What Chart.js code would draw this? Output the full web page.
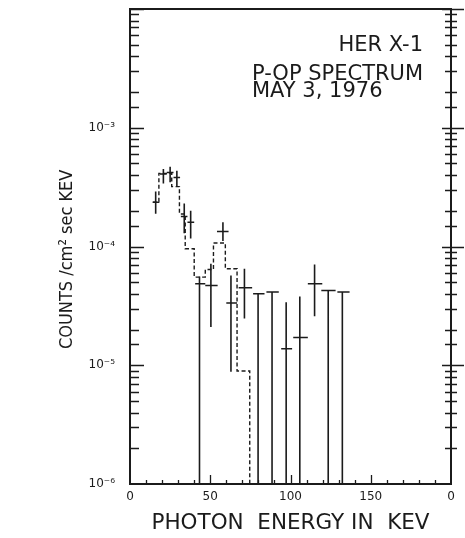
<!DOCTYPE html>
<html>
<head>
<meta charset="utf-8">
<script src="https://cdn.jsdelivr.net/npm/chart.js@4.4.0/dist/chart.umd.min.js"></script>
<style>
html, body { margin: 0; padding: 0; background: #fff; }
#wrap { width: 465px; height: 538px; position: relative; }
</style>
</head>
<body>
<div id="wrap"><canvas id="mycanvas"></canvas></div>
<script>
var energy = [16.0, 20.8, 25.0, 29.2, 33.8, 37.8, 43.3, 50.4, 57.9, 62.9, 71.3, 79.8, 88.5, 97.3, 105.8, 115.0, 123.5, 132.3];
var eLow   = [14.2, 18.7, 22.9, 27.1, 31.7, 35.8, 40.6, 46.9, 54.2, 60.0, 67.7, 76.7, 85.0, 94.2, 101.7, 110.8, 119.2, 129.2];
var eHigh  = [18.3, 22.9, 27.1, 31.2, 35.8, 40.0, 46.9, 54.6, 61.4, 66.7, 76.1, 83.8, 92.7, 101.0, 110.8, 119.8, 128.1, 136.8];
var counts = [2.36e-4, 4.08e-4, 4.2e-4, 3.82e-4, 1.79e-4, 1.6e-4, 4.86e-5, 4.7e-5, 1.34e-4, 3.34e-5, 4.5e-5, 4.0e-5, 4.13e-5, 1.38e-5, 1.71e-5, 4.86e-5, 4.27e-5, 4.13e-5];
var cLow   = [1.89e-4, 3.39e-4, 3.47e-4, 3.19e-4, 1.29e-4, 1.17e-4, 0, 2.1e-5, 1.11e-4, 8.8e-6, 2.47e-5, 0, 0, 0, 0, 2.58e-5, 0, 0];
var cHigh  = [2.9e-4, 4.5e-4, 4.7e-4, 4.35e-4, 2.3e-4, 2.0e-4, 5.6e-5, 7.16e-5, 1.6e-4, 5.7e-5, 6.5e-5, 4.0e-5, 4.13e-5, 3.4e-5, 3.8e-5, 7.07e-5, 4.27e-5, 4.13e-5];

// model histogram (dashed)
var binEdge  = [14.2, 18, 26, 30.8, 34.4, 40, 46.9, 52, 59.4, 66.7, 74.6];
var binLevel = [2.36e-4, 4.13e-4, 3.19e-4, 1.88e-4, 9.57e-5, 5.52e-5, 6.4e-5, 1.07e-4, 6.5e-5, 8.95e-6];

var xTickValues = [0, 50, 100, 150, 200];
var xTickText   = ['0', '50', '100', '150', '0'];
var yTickValues = [1e-6, 1e-5, 1e-4, 1e-3];
var yTickText   = ['10\u207B\u2076', '10\u207B\u2075', '10\u207B\u2074', '10\u207B\u00B3'];

var xMin = 0, xMax = 200, yMin = 1e-6, yMax = 1e-2;

var vbars = [], hbars = [], hist = [];
for (var i = 0; i < energy.length; i++) {
	vbars.push({x: energy[i], y: cLow[i] > 0 ? cLow[i] : yMin});
	vbars.push({x: energy[i], y: cHigh[i]});
	vbars.push({x: energy[i], y: null});
	hbars.push({x: eLow[i], y: counts[i]});
	hbars.push({x: eHigh[i], y: counts[i]});
	hbars.push({x: eHigh[i], y: null});
}
for (var j = 0; j < binLevel.length; j++) {
	hist.push({x: binEdge[j], y: binLevel[j]});
}
hist.push({x: binEdge[binEdge.length - 1], y: yMin});

function labelFor(values, texts, v) {
	for (var k = 0; k < values.length; k++) {
		if (Math.abs(v - values[k]) <= values[k] * 1e-6) return texts[k];
	}
	return '';
}
function isDecade(v) {
	var e = Math.log10(v);
	return Math.abs(e - Math.round(e)) < 1e-6;
}
function noPad(s) {
	s.paddingTop = 0; s.paddingBottom = 0; s.paddingLeft = 0; s.paddingRight = 0;
}

var ink = '#1b1b1b';

var frame = {
	id: 'frame',
	beforeDraw: function(chart) {
		var c = chart.ctx;
		c.save();
		c.fillStyle = '#fff';
		c.fillRect(0, 0, chart.width, chart.height);
		c.restore();
	},
	afterDraw: function(chart) {
		var c = chart.ctx, a = chart.chartArea, xs = chart.scales.x, ys = chart.scales.y;
		c.save();
		c.strokeStyle = ink;
		c.lineWidth = 1.3;
		c.beginPath();
		ys.ticks.forEach(function(t) {
			if (t.value <= yMin) return;
			var py = Math.round(ys.getPixelForValue(t.value)) + 0.5;
			var big = isDecade(t.value);
			c.moveTo(a.left, py); c.lineTo(a.left + (big ? 14 : 9), py);
			c.moveTo(a.right - (big ? 9 : 6), py); c.lineTo(a.right + (big ? 13 : 6), py);
		});
		xs.ticks.forEach(function(t) {
			if (t.value <= xMin || t.value >= xMax) return;
			var px = Math.round(xs.getPixelForValue(t.value)) + 0.5;
			c.moveTo(px, a.bottom); c.lineTo(px, a.bottom - (t.value % 50 === 0 ? 9 : 4));
		});
		c.stroke();
		c.lineWidth = 2;
		c.strokeRect(a.left, a.top, a.right - a.left, a.bottom - a.top);

		c.fillStyle = ink;
		c.font = '21px "DejaVu Sans"';
		c.textBaseline = 'alphabetic';
		c.textAlign = 'right';
		c.fillText('HER X-1', 423, 51);
		c.textAlign = 'left';
		c.fillText('P-OP SPECTRUM', 252, 80);
		c.fillText('MAY 3, 1976', 252, 97);
		c.restore();
	}
};

var ctx = document.getElementById('mycanvas');

var spectrum = new Chart(ctx, {
	type: 'scatter',
	data: {
		datasets: [
			{
				label: 'model',
				data: hist,
				showLine: true,
				stepped: true,
				borderColor: ink,
				borderWidth: 1.4,
				borderDash: [4, 2.5],
				pointRadius: 0,
				fill: false
			},
			{
				label: 'error y',
				data: vbars,
				showLine: true,
				borderColor: ink,
				borderWidth: 1.6,
				pointRadius: 0,
				spanGaps: false
			},
			{
				label: 'error x',
				data: hbars,
				showLine: true,
				borderColor: ink,
				borderWidth: 1.5,
				pointRadius: 0,
				spanGaps: false
			}
		]
	},
	options: {
		responsive: true,
		maintainAspectRatio: false,
		animation: false,
		layout: { padding: { top: 9, right: 14, left: 0, bottom: 0 } },
		plugins: { legend: { display: false }, tooltip: { enabled: false } },
		scales: {
			x: {
				type: 'linear',
				min: xMin,
				max: xMax,
				afterFit: function(s) { s.height = 54; noPad(s); },
				grid: { display: false, drawTicks: false },
				border: { display: false },
				ticks: {
					stepSize: 10,
					autoSkip: false,
					maxRotation: 0,
					padding: 6,
					color: ink,
					font: { family: '"DejaVu Sans"', size: 12 },
					callback: function(v) { return labelFor(xTickValues, xTickText, v); }
				},
				title: {
					display: true,
					text: 'PHOTON  ENERGY IN  KEV',
					color: ink,
					font: { family: '"DejaVu Sans"', size: 21.5 },
					padding: { top: 0, bottom: 2 }
				}
			},
			y: {
				type: 'logarithmic',
				min: yMin,
				max: yMax,
				afterFit: function(s) { s.width = 130; noPad(s); },
				grid: { display: false, drawTicks: false },
				border: { display: false },
				ticks: {
					autoSkip: false,
					padding: 15,
					color: ink,
					font: { family: '"DejaVu Sans"', size: 12 },
					callback: function(v) { return labelFor(yTickValues, yTickText, v); }
				},
				title: {
					display: true,
					text: 'COUNTS /cm\u00B2 sec KEV\u00A0\u00A0\u00A0\u00A0\u00A0',
					color: ink,
					font: { family: '"DejaVu Sans Condensed", "DejaVu Sans"', size: 18 },
					padding: { top: 57, bottom: 0 }
				}
			}
		}
	},
	plugins: [frame]
});
</script>
</body>
</html>
